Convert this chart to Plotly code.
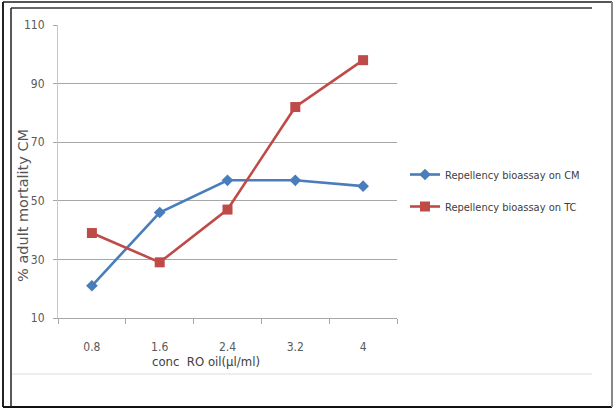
import plotly.graph_objects as go

# Concentration of RO oil (µl/ml) and % adult mortality per bioassay
concentrations = ["0.8", "1.6", "2.4", "3.2", "4"]
mortality_cm = [21, 46, 57, 57, 55]
mortality_tc = [39, 29, 47, 82, 98]
y_ticks = [10, 30, 50, 70, 90, 110]

W, H = 614, 410
L, R, T, B = 58, 397, 25, 318   # plot-area edges in pixels

NARROW = "Liberation Sans Narrow, Arial Narrow, DejaVu Sans Condensed, sans-serif"


def px_x(p):
    return (p - L) / (R - L)


def px_y(p):
    return (B - p) / (B - T)


fig = go.Figure()
fig.add_trace(go.Scatter(
    x=concentrations, y=mortality_cm, mode="lines+markers",
    name="Repellency bioassay on CM", legendgroup="cm",
    line=dict(color="#4A7EBB", width=2.6),
    marker=dict(symbol="diamond", size=9, color="#4A7EBB"),
))
fig.add_trace(go.Scatter(
    x=concentrations, y=mortality_tc, mode="lines+markers",
    name="Repellency bioassay on TC", legendgroup="tc",
    line=dict(color="#BE4B48", width=2.6),
    marker=dict(symbol="square", size=10, color="#BE4B48"),
))

# Frame lines around the chart
frame = [
    # outer double border
    dict(x0=3, y0=2, x1=612, y1=2, c="#555555", w=2),
    dict(x0=3, y0=2, x1=3, y1=407, c="#222222", w=2),
    dict(x0=3, y0=407, x1=612, y1=407, c="#111111", w=2),
    dict(x0=612, y0=2, x1=612, y1=407, c="#888888", w=2),
    # inner border
    dict(x0=11, y0=8, x1=592, y1=8, c="#333333", w=1.5),
    dict(x0=11, y0=8, x1=11, y1=407, c="#222222", w=1.5),
    dict(x0=12, y0=374, x1=592, y1=374, c="#DDDDDD", w=1),
]
for f in frame:
    fig.add_shape(type="line", xref="paper", yref="paper",
                  x0=px_x(f["x0"]), x1=px_x(f["x1"]),
                  y0=px_y(f["y0"]), y1=px_y(f["y1"]),
                  line=dict(color=f["c"], width=f["w"]), layer="above")

fig.add_annotation(
    text="% adult mortality CM", textangle=-90,
    xref="paper", yref="paper", x=px_x(23), y=px_y(206),
    showarrow=False, xanchor="center", yanchor="middle",
    font=dict(family="DejaVu Sans, Verdana, sans-serif", size=14.5, color="#555555"),
)
fig.add_annotation(
    text="conc  RO oil(µl/ml)",
    xref="paper", yref="paper", x=px_x(206), y=px_y(361),
    showarrow=False, xanchor="center", yanchor="middle",
    font=dict(family=NARROW, size=13, color="#404040"),
)

fig.update_layout(
    width=W, height=H,
    margin=dict(l=L, r=W - R, t=T, b=H - B),
    paper_bgcolor="white", plot_bgcolor="white",
    showlegend=True,
    legend=dict(
        x=px_x(405), y=px_y(160), xanchor="left", yanchor="top",
        font=dict(family=NARROW, size=11, color="#404040"),
        traceorder="grouped", tracegroupgap=13,
        itemwidth=30, bgcolor="rgba(0,0,0,0)",
    ),
    xaxis=dict(
        type="category", tickson="boundaries",
        showgrid=False, showline=True, linecolor="#A6A6A6", linewidth=1,
        ticks="outside", ticklen=5, tickcolor="#A6A6A6",
        ticklabelstandoff=18,
        tickfont=dict(family=NARROW, size=12, color="#595959"),
        range=[-0.5, 4.5],
    ),
    yaxis=dict(
        range=[10, 110], tickvals=y_ticks,
        showgrid=True, gridcolor="#A6A6A6", gridwidth=1,
        showline=True, linecolor="#C8C8C8", linewidth=1,
        ticks="outside", ticklen=4, tickcolor="#A6A6A6",
        ticklabelstandoff=6,
        tickfont=dict(family=NARROW, size=12, color="#595959"),
        zeroline=False,
    ),
)

fig.write_html("out.html")
